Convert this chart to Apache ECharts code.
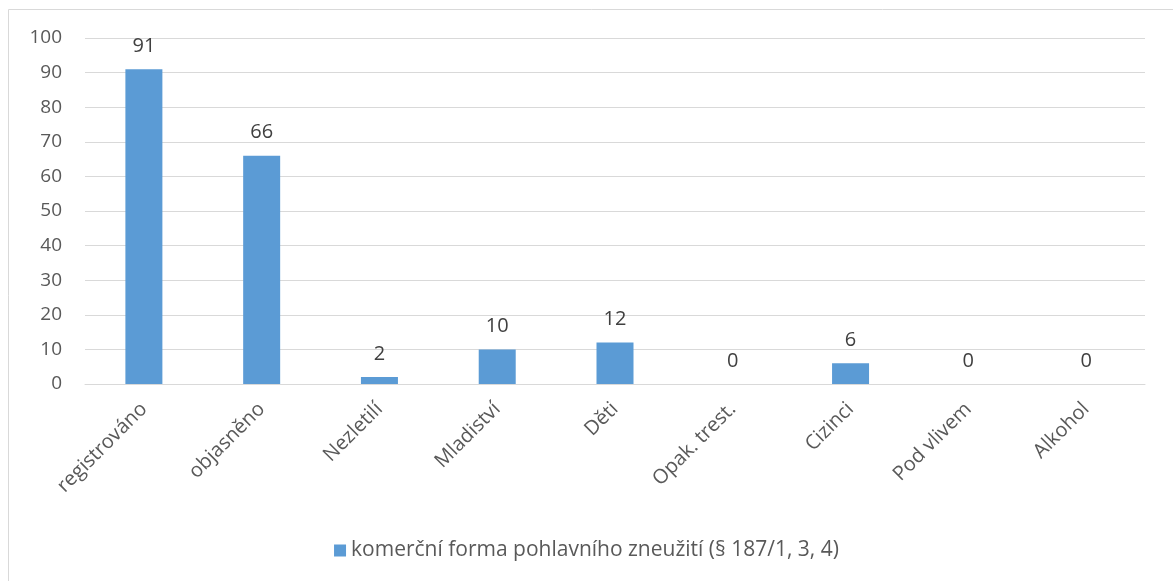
<!DOCTYPE html>
<html>
<head>
<meta charset="utf-8">
<script src="https://cdn.jsdelivr.net/npm/echarts@6/dist/echarts.min.js"></script>
<style>
    html, body {margin: 0; padding: 0; background: #fff;}
    #chart {width: 1173px; height: 581px;}
</style>
</head>
<body>
<div id="chart"></div>
<script>
    // data
    var categories = ['registrováno', 'objasněno', 'Nezletilí', 'Mladiství', 'Děti', 'Opak. trest.', 'Cizinci', 'Pod vlivem', 'Alkohol'];
    var values = [91, 66, 2, 10, 12, 0, 6, 0, 0];
    var seriesName = 'komerční forma pohlavního zneužití (§ 187/1, 3, 4)';

    var font = 'Open Sans, Noto Sans, sans-serif';
    var grey = '#595959';

    var chart = echarts.init(document.getElementById('chart'));
    chart.setOption({
        animation: false,
        textStyle: {fontFamily: font},
        graphic: [{
            type: 'rect', silent: true,
            shape: {x: 8.5, y: 9.5, width: 1180, height: 600},
            style: {fill: 'none', stroke: '#d9d9d9', lineWidth: 1}
        }],
        grid: {left: 85, right: 28, top: 38, bottom: 197, containLabel: false},
        legend: {
            bottom: 15, left: 'center',
            itemWidth: 12, itemHeight: 12, itemGap: 5,
            icon: 'rect',
            textStyle: {color: grey, fontSize: 21, fontFamily: font}
        },
        xAxis: {
            type: 'category',
            data: categories,
            axisLine: {lineStyle: {color: '#d9d9d9'}},
            axisTick: {show: false},
            axisLabel: {color: grey, fontSize: 20, rotate: 45, margin: 22, interval: 0}
        },
        yAxis: {
            type: 'value',
            min: 0, max: 100, interval: 10,
            axisLine: {show: false},
            axisTick: {show: false},
            axisLabel: {color: grey, fontSize: 19, margin: 23},
            splitLine: {lineStyle: {color: '#d9d9d9'}}
        },
        series: [{
            name: seriesName,
            type: 'bar',
            data: values,
            barWidth: 37,
            itemStyle: {color: '#5b9bd5'},
            label: {show: true, position: 'top', distance: 13, color: '#404040', fontSize: 20}
        }]
    });
</script>
</body>
</html>
